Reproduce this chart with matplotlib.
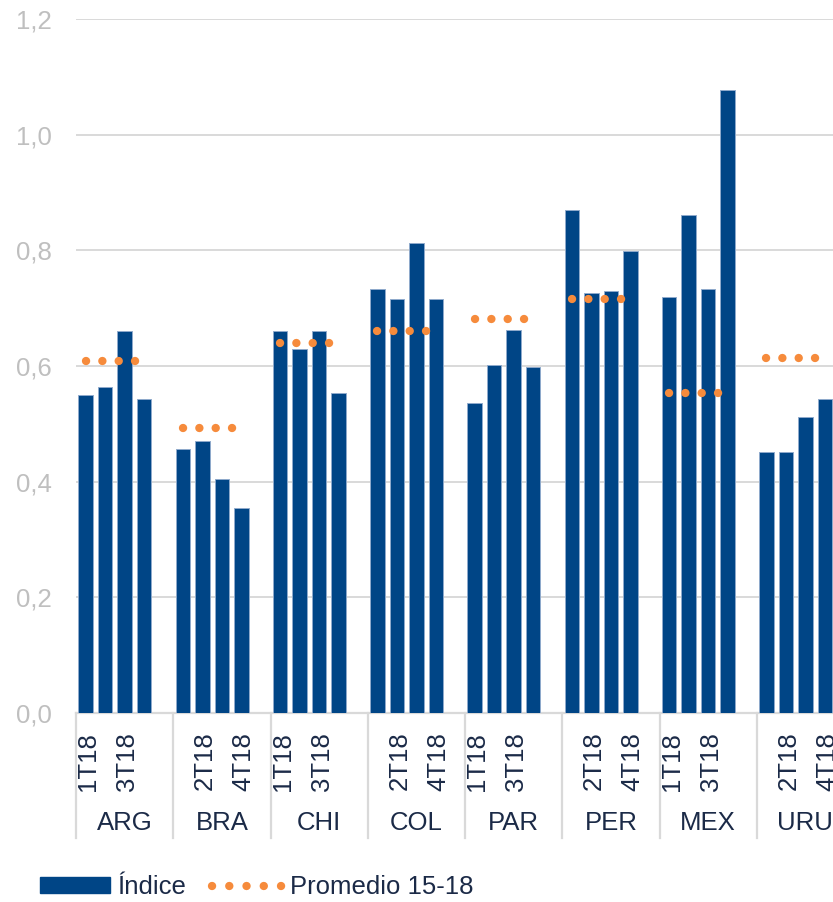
import matplotlib
matplotlib.use("Agg")
import matplotlib.pyplot as plt
from matplotlib.lines import Line2D
from matplotlib.patches import Patch
import matplotlib.transforms as mtransforms
import numpy as np

plt.rcParams["font.family"] = ["Liberation Sans", "DejaVu Sans"]

# ---------------------------------------------------------------- datos
paises = ["ARG", "BRA", "CHI", "COL", "PAR", "PER", "MEX", "URU"]
trimestres = ["1T18", "2T18", "3T18", "4T18"]
indice = [
    [0.550, 0.564, 0.661, 0.543],  # ARG
    [0.457, 0.470, 0.405, 0.354],  # BRA
    [0.661, 0.629, 0.661, 0.553],  # CHI
    [0.733, 0.715, 0.812, 0.715],  # COL
    [0.536, 0.602, 0.663, 0.598],  # PAR
    [0.870, 0.726, 0.730, 0.798],  # PER
    [0.719, 0.861, 0.733, 1.077],  # MEX
    [0.451, 0.451, 0.512, 0.543],  # URU
]
promedio = [0.609, 0.492, 0.640, 0.661, 0.682, 0.716, 0.554, 0.613]
yticks = [0.0, 0.2, 0.4, 0.6, 0.8, 1.0, 1.2]

AZUL = "#004586"
NARANJA = "#F68B3C"
GRIS = "#D9D9D9"
TXT = "#1B2A47"
FS = 18.5
LW_DOT = 6.0

SLOTS = 5  # 4 trimestres + 1 hueco por pais (como en Excel)

fig = plt.figure(figsize=(8.33, 9.02), dpi=100)
ax = fig.add_axes([76 / 833, 1 - 713 / 902, 778 / 833, 694 / 902])

for i, pais in enumerate(paises):
    x0 = i * SLOTS
    xs = np.arange(x0, x0 + len(trimestres))
    ax.bar(xs, indice[i], width=0.745, color=AZUL, edgecolor="#8FAACC",
           linewidth=0.7, zorder=3)
    ax.plot([xs[0], xs[-1]], [promedio[i]] * 2, color=NARANJA, lw=LW_DOT,
            linestyle=(0, (0.01, 1.95)), dash_capstyle="round", zorder=4)

n_slots = SLOTS * len(paises)
ax.set_xlim(-0.5, n_slots - 0.5)
ax.set_ylim(0, 1.2)

# etiquetas de trimestre (Excel muestra una de cada dos)
pos = np.arange(0, n_slots, 2)
labs = [trimestres[j % SLOTS] if j % SLOTS < len(trimestres) else "" for j in pos]
ax.set_xticks(pos)
ax.set_xticklabels(labs, rotation=90, va="top", fontsize=FS, color=TXT)
ax.tick_params(axis="x", length=0, pad=13.5)
shift = mtransforms.ScaledTranslation(1.8 / 72, 0, fig.dpi_scale_trans)
for lab in ax.get_xticklabels():
    lab.set_transform(lab.get_transform() + shift)

ax.set_yticks(yticks)
ax.set_yticklabels([f"{v:.1f}".replace(".", ",") for v in yticks],
                   fontsize=FS, color="#BFBFBF")
ax.tick_params(axis="y", length=0, pad=17.3)
ax.yaxis.grid(True, color=GRIS, lw=1.4, zorder=0)
ax.set_axisbelow(True)

for s in ["top", "right", "left"]:
    ax.spines[s].set_visible(False)
ax.spines["bottom"].set_color(GRIS)
ax.spines["bottom"].set_linewidth(1.6)

# separadores y nombres de pais
trans = mtransforms.blended_transform_factory(ax.transData, ax.transAxes)
for i, pais in enumerate(paises):
    xb = i * SLOTS - 0.5
    ax.plot([xb, xb], [0, -125 / 694], transform=trans, color=GRIS, lw=1.6,
            clip_on=False, zorder=1)
    ax.text(xb + SLOTS / 2, -110 / 694, pais, transform=trans, ha="center",
            va="center", fontsize=FS, color=TXT)

handles = [
    Patch(facecolor=AZUL, edgecolor=AZUL, label="Índice"),
    Line2D([0], [0], color=NARANJA, lw=LW_DOT, linestyle=(0, (0.01, 2.06)),
           dash_capstyle="round", label="Promedio 15-18"),
]
fig.legend(handles=handles, loc="center left", bbox_to_anchor=(40 / 833, 1 - 887 / 902),
           ncol=2, frameon=False, fontsize=FS, labelcolor=TXT, handlelength=2.72,
           handleheight=0.55, handletextpad=0.3, columnspacing=1.0, borderpad=0,
           borderaxespad=0)

fig.savefig("out.png", dpi=100)
